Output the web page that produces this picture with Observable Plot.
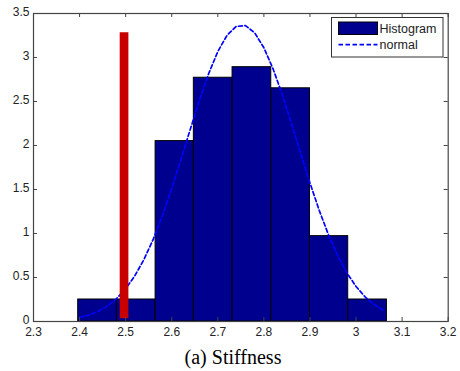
<!DOCTYPE html>
<html>
<head>
<meta charset="utf-8">
<script src="https://cdn.jsdelivr.net/npm/d3@7"></script>
<script src="https://cdn.jsdelivr.net/npm/@observablehq/plot@0.6"></script>
<style>
  html, body { margin: 0; padding: 0; background: #fff; }
  #wrap { position: relative; width: 460px; height: 371px; overflow: hidden; }
  #title { position: absolute; left: 133px; top: 345px; width: 200px; text-align: center;
           font-family: "Liberation Serif", "Times New Roman", serif; font-size: 20px; line-height: 24px; color: #000; }
  #legend { position: absolute; left: 331px; top: 17px; }
</style>
</head>
<body>
<div id="wrap">
  <div id="chart"></div>
  <svg id="legend" width="113" height="41"></svg>
  <div id="title">(a) Stiffness</div>
</div>
<script>
// ---- data ----
const binEdges = [2.397, 2.481, 2.565, 2.648, 2.732, 2.816, 2.900, 2.983, 3.067];
const binHeights = [0.25, 0.25, 2.05, 2.77, 2.89, 2.65, 0.97, 0.25];

const curveX = [2.40, 2.42, 2.44, 2.46, 2.48, 2.50, 2.52, 2.54, 2.56, 2.58, 2.60, 2.62, 2.64, 2.66,
                2.68, 2.70, 2.72, 2.74, 2.76, 2.78, 2.80, 2.82, 2.84, 2.86, 2.88, 2.90, 2.92, 2.94,
                2.96, 2.98, 3.00, 3.02, 3.04, 3.06];
const curveY = [0.046, 0.073, 0.115, 0.175, 0.258, 0.372, 0.520, 0.708, 0.937, 1.207, 1.511, 1.840, 2.180, 2.512,
                2.815, 3.068, 3.252, 3.353, 3.363, 3.280, 3.111, 2.870, 2.576, 2.248, 1.908, 1.575, 1.264, 0.988,
                0.750, 0.554, 0.398, 0.278, 0.189, 0.125];

const markerX = [2.4965];
const markerLow = [0.03];
const markerHigh = [3.28];

const xTicks = [2.3, 2.4, 2.5, 2.6, 2.7, 2.8, 2.9, 3.0, 3.1, 3.2];
const yTicks = [0, 0.5, 1, 1.5, 2, 2.5, 3, 3.5];

const legendLabels = ["Histogram", "normal"];

// ---- build tables ----
const bins = binHeights.map((h, i) => ({x1: binEdges[i], x2: binEdges[i + 1], y: h}));
const curve = curveX.map((x, i) => ({x, y: curveY[i]}));
const marker = markerX.map((x, i) => ({x, y1: markerLow[i], y2: markerHigh[i]}));

const W = 460, H = 340, mL = 33, mR = 12.3, mT = 13, mB = 19;
const plotW = W - mL - mR, plotH = H - mT - mB;
const tick = 4;
const fmt = d3.format("~g");

const navy = "#00008f";
const chart = Plot.plot({
  width: W, height: H,
  marginLeft: mL, marginRight: mR, marginTop: mT, marginBottom: mB,
  style: {fontFamily: "'Liberation Sans', Arial, sans-serif", fontSize: "12px", color: "#222", background: "#fff"},
  x: {domain: [2.3, 3.2], ticks: xTicks, label: null},
  y: {domain: [0, 3.5], ticks: yTicks, label: null},
  marks: [
    Plot.rectY(bins, {x1: "x1", x2: "x2", y: "y", fill: navy, stroke: "#000", strokeWidth: 1}),
    Plot.line(curve, {x: "x", y: "y", stroke: "#0000ff", strokeWidth: 1.7, strokeDasharray: "4,2.5"}),
    Plot.ruleX(marker, {x: "x", y1: "y1", y2: "y2", stroke: "#c80000", strokeWidth: 8.7}),
    // inward ticks (MATLAB style) on all four sides
    Plot.tickX(xTicks, {x: d => d, stroke: "#444", insetTop: plotH - tick}),
    Plot.tickX(xTicks, {x: d => d, stroke: "#444", insetBottom: plotH - tick}),
    Plot.tickY(yTicks, {y: d => d, stroke: "#444", insetRight: plotW - tick}),
    Plot.tickY(yTicks, {y: d => d, stroke: "#444", insetLeft: plotW - tick}),
    Plot.axisX({ticks: xTicks, tickSize: 0, tickPadding: 6, tickFormat: fmt, label: null}),
    Plot.axisY({ticks: yTicks, tickSize: 0, tickPadding: 4, tickFormat: fmt, label: null, dy: -1}),
    Plot.frame({stroke: "#444", strokeWidth: 1.2})
  ]
});
document.getElementById("chart").appendChild(chart);

// ---- legend overlay ----
const lg = d3.select("#legend");
lg.append("rect").attr("x", 0.5).attr("y", 0.5).attr("width", 111.5).attr("height", 39.5)
  .attr("fill", "#fff").attr("stroke", "#333").attr("stroke-width", 1);
lg.append("rect").attr("x", 7.5).attr("y", 5).attr("width", 39).attr("height", 12.5)
  .attr("fill", navy).attr("stroke", "#000").attr("stroke-width", 1);
lg.append("line").attr("x1", 7.5).attr("x2", 46.5).attr("y1", 27.7).attr("y2", 27.7)
  .attr("stroke", "#0000ff").attr("stroke-width", 1.7).attr("stroke-dasharray", "4.5,2.5");
lg.selectAll("text.lab").data(legendLabels).join("text")
  .attr("class", "lab")
  .attr("x", 48.5).attr("y", (d, i) => 16 + i * 16)
  .attr("font-family", "'Liberation Sans', Arial, sans-serif").attr("font-size", "12.5px").attr("fill", "#222")
  .text(d => d);
</script>
</body>
</html>
